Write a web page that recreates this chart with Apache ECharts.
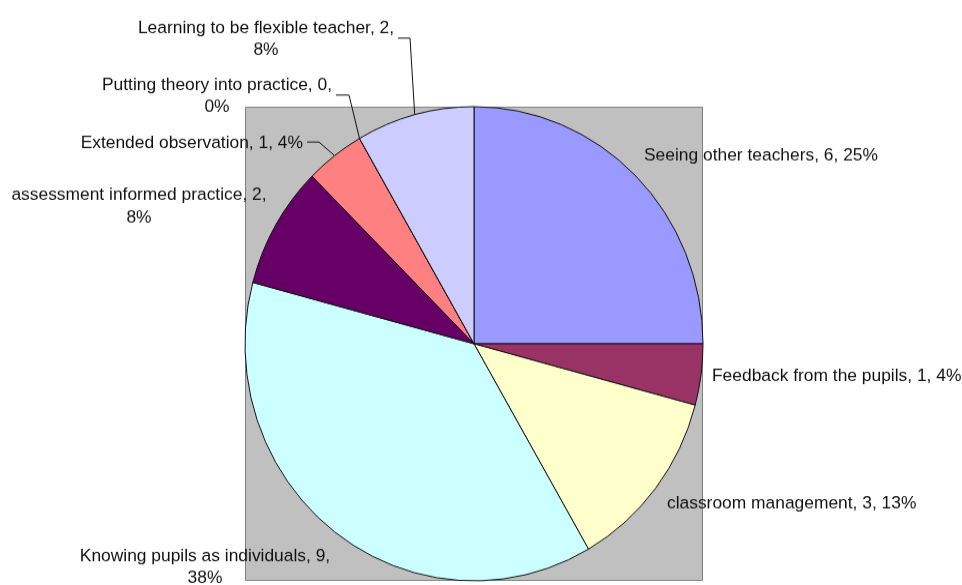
<!DOCTYPE html>
<html>
<head>
<meta charset="utf-8">
<title>Professional learning sources</title>
<script src="https://cdn.jsdelivr.net/npm/echarts@6/dist/echarts.min.js"></script>
<style>
  html, body { margin: 0; padding: 0; background: #fff; width: 962px; height: 585px; }
  /* The chart is drawn slightly short and stretched to full height,
     giving the pie its gently upright oval shape. */
  #chart {
    width: 962px;
    height: 565px;
    transform: scaleY(1.0354);
    transform-origin: 0 0;
  }
</style>
</head>
<body>
<div id="chart"></div>
<script>
// Categories and counts, clockwise from twelve o'clock
const categories = [
  'Seeing other teachers',
  'Feedback from the pupils',
  'classroom management',
  'Knowing pupils as individuals',
  'assessment informed practice',
  'Extended observation',
  'Putting theory into practice',
  'Learning to be flexible teacher'
];
const counts = [6, 1, 3, 9, 2, 1, 0, 2];
const sliceColors = ['#9999FF', '#993366', '#FFFFCC', '#CCFFFF', '#660066', '#FF8080', '#0066CC', '#CCCCFF'];

// Labels that break before the percentage
const wrapped = new Set([
  'Learning to be flexible teacher',
  'Putting theory into practice',
  'assessment informed practice',
  'Knowing pupils as individuals'
]);

// Label placement: anchor point, alignment, and optional leader elbow
const labelPlacement = [
  { x: 644, y: 150.7, align: 'left' },
  { x: 712, y: 363.2, align: 'left' },
  { x: 667, y: 485.8, align: 'left' },
  { x: 205, y: 547.6, align: 'center' },
  { x: 139, y: 199, align: 'center' },
  { x: 303, y: 138.1, align: 'right', elbow: [[319, 137.2], [307, 137.2]] },
  { x: 217, y: 92.7, align: 'center', elbow: [[349, 91.8], [336, 91.8]] },
  { x: 266, y: 37.7, align: 'center', elbow: [[410, 36.8], [398, 36.8]] }
];

const chart = echarts.init(document.getElementById('chart'));

const pieData = categories.map((name, i) => ({
  name: name,
  value: counts[i],
  itemStyle: { color: sliceColors[i] },
  labelLine: { show: !!labelPlacement[i].elbow }
}));

chart.setOption({
  animation: false,
  backgroundColor: '#ffffff',
  graphic: [{
    type: 'rect',
    z: -10,
    shape: { x: 245.5, y: 103.5, width: 457, height: 457 },
    style: { fill: '#C0C0C0', stroke: '#808080', lineWidth: 1 }
  }],
  series: [{
    type: 'pie',
    center: [474, 332],
    radius: 229,
    startAngle: 90,
    clockwise: true,
    percentPrecision: 0,
    avoidLabelOverlap: false,
    data: pieData,
    itemStyle: { borderColor: '#111', borderWidth: 1 },
    emphasis: { disabled: true },
    label: {
      show: true,
      position: 'outside',
      color: '#111',
      fontFamily: '"Liberation Sans", Arial, sans-serif',
      fontSize: 17.4,
      lineHeight: 21.5,
      formatter: function (p) {
        const sep = wrapped.has(p.name) ? ',\n' : ', ';
        return p.name + ', ' + p.value + sep + p.percent + '%';
      }
    },
    labelLine: {
      show: true,
      smooth: false,
      lineStyle: { color: '#111', width: 1 }
    },
    labelLayout: function (params) {
      const spot = labelPlacement[params.dataIndex];
      const out = {
        x: spot.x,
        y: spot.y,
        align: spot.align,
        verticalAlign: 'middle'
      };
      if (spot.elbow && params.labelLinePoints) {
        out.labelLinePoints = [params.labelLinePoints[0]].concat(spot.elbow);
      }
      return out;
    }
  }]
});
</script>
</body>
</html>
